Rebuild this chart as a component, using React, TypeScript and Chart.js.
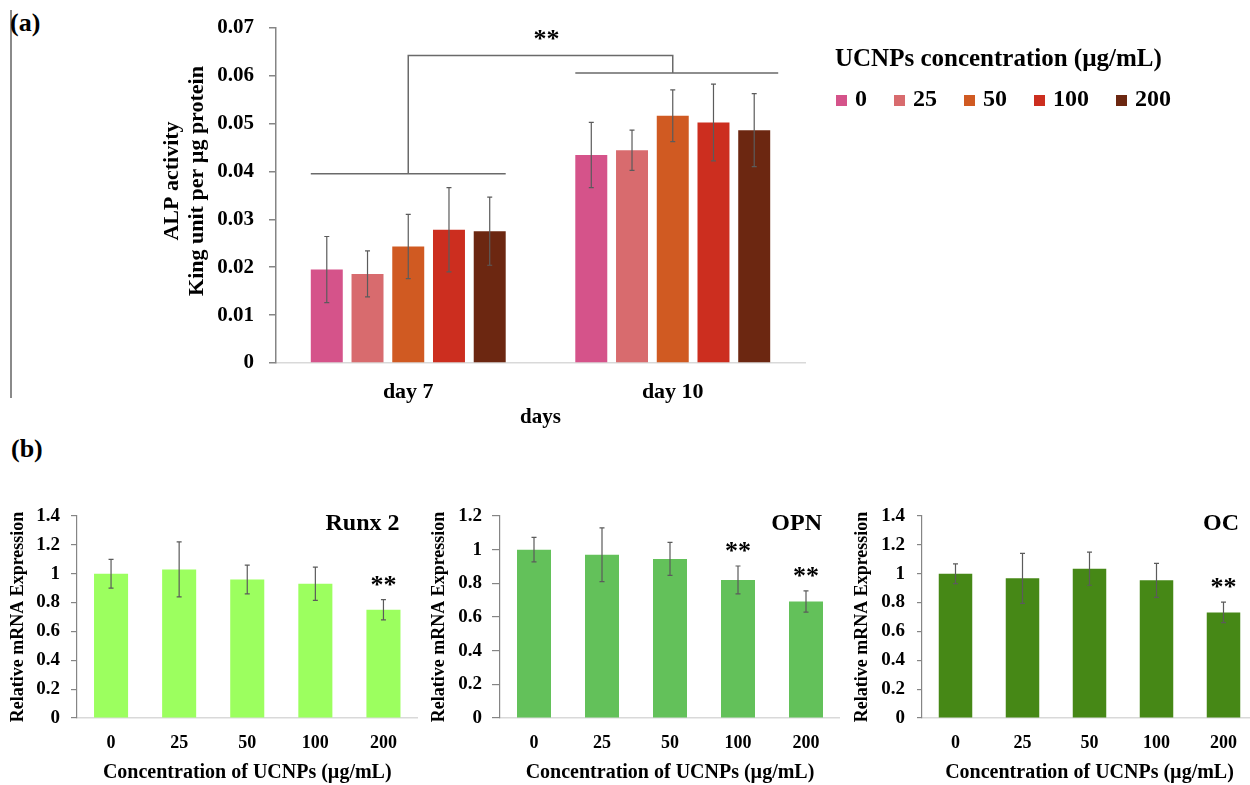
import React, { useEffect, useRef } from "react";
import { Chart, registerables } from "chart.js";

Chart.register(...registerables);

const SERIF = "'Liberation Serif', 'Times New Roman', serif";

// ---------- Panel (a): ALP activity ----------
const dayLabels = ["day 7", "day 10"];
const concNames = ["0", "25", "50", "100", "200"];
const concColors = ["#D5538A", "#D86B6E", "#D05A22", "#CC2E1F", "#6C2711"];
const alpConc0 = [0.0195, 0.0434];
const alpConc25 = [0.0186, 0.0444];
const alpConc50 = [0.0243, 0.0516];
const alpConc100 = [0.0278, 0.0502];
const alpConc200 = [0.0275, 0.0486];
const alpErr0 = [0.0069, 0.0068];
const alpErr25 = [0.0048, 0.0042];
const alpErr50 = [0.0067, 0.0054];
const alpErr100 = [0.0088, 0.008];
const alpErr200 = [0.0071, 0.0076];
const alpYMax = 0.07;
const alpYStep = 0.01;
const bracketDay7 = 0.0395;
const bracketDay10 = 0.0605;
const bracketTop = 0.0642;
const alpSig = "**";
const alpYTitle = ["ALP activity", "King unit per µg protein"];
const alpXTitle = "days";
const legendTitle = "UCNPs concentration (µg/mL)";

// ---------- Panel (b): gene expression ----------
const geneConc = ["0", "25", "50", "100", "200"];
const runx2Vals = [1.0, 1.03, 0.96, 0.93, 0.75];
const runx2Err = [0.1, 0.19, 0.1, 0.115, 0.07];
const runx2Sig = ["", "", "", "", "**"];
const opnVals = [1.0, 0.97, 0.945, 0.82, 0.692];
const opnErr = [0.073, 0.16, 0.098, 0.083, 0.063];
const opnSig = ["", "", "", "**", "**"];
const ocVals = [1.0, 0.968, 1.035, 0.954, 0.732];
const ocErr = [0.068, 0.173, 0.115, 0.118, 0.071];
const ocSig = ["", "", "", "", "**"];
const geneYTitle = "Relative mRNA Expression";
const geneXTitle = "Concentration of UCNPs (µg/mL)";

const AXIS_GREY = "#858585";
const BASE_GREY = "#d9d9d9";
const ERR_GREY = "#5b5b5b";

const errorBarPlugin = {
  id: "errorBars",
  afterDatasetsDraw(chart: any) {
    const ctx = chart.ctx;
    const ys = chart.scales.y;
    chart.data.datasets.forEach((ds: any, di: number) => {
      const errs = ds.errors;
      if (!errs) return;
      const meta = chart.getDatasetMeta(di);
      meta.data.forEach((el: any, i: number) => {
        const v = ds.data[i];
        const e = errs[i];
        const yt = ys.getPixelForValue(v + e);
        const yb = ys.getPixelForValue(v - e);
        ctx.save();
        ctx.strokeStyle = ERR_GREY;
        ctx.lineWidth = 1.2;
        ctx.beginPath();
        ctx.moveTo(el.x, yt);
        ctx.lineTo(el.x, yb);
        ctx.moveTo(el.x - 2.5, yt);
        ctx.lineTo(el.x + 2.5, yt);
        ctx.moveTo(el.x - 2.5, yb);
        ctx.lineTo(el.x + 2.5, yb);
        ctx.stroke();
        ctx.restore();
      });
    });
  },
};

function ChartCanvas(props: { left: number; top: number; width: number; height: number; build: () => any }) {
  const ref = useRef<HTMLCanvasElement>(null);
  useEffect(() => {
    const chart = new Chart(ref.current as HTMLCanvasElement, props.build());
    return () => chart.destroy();
  }, []);
  return (
    <canvas
      ref={ref}
      width={props.width}
      height={props.height}
      style={{ position: "absolute", left: props.left, top: props.top, width: props.width, height: props.height }}
    />
  );
}

function buildAlp() {
  const vals = [alpConc0, alpConc25, alpConc50, alpConc100, alpConc200];
  const errs = [alpErr0, alpErr25, alpErr50, alpErr100, alpErr200];
  const datasets = concNames.map((n, i) => ({
    label: n,
    data: vals[i],
    errors: errs[i],
    backgroundColor: concColors[i],
    borderWidth: 0,
    categoryPercentage: 0.77,
    barPercentage: 0.785,
  }));
  const annot = {
    id: "alpAnnot",
    afterDraw(chart: any) {
      const ctx = chart.ctx;
      const xs = chart.scales.x;
      const ys = chart.scales.y;
      const m0 = chart.getDatasetMeta(0);
      const m4 = chart.getDatasetMeta(4);
      const g7L = m0.data[0].x - m0.data[0].width / 2;
      const g7R = m4.data[0].x + m4.data[0].width / 2;
      const g10L = m0.data[1].x - m0.data[1].width / 2;
      const g10R = m4.data[1].x + m4.data[1].width / 2;
      const c7 = xs.getPixelForValue(0);
      const c10 = xs.getPixelForValue(1);
      const yLow = ys.getPixelForValue(bracketDay7);
      const yMid = ys.getPixelForValue(bracketDay10);
      const yTop = ys.getPixelForValue(bracketTop);
      ctx.save();
      ctx.strokeStyle = "#6a6a6a";
      ctx.lineWidth = 1.5;
      ctx.beginPath();
      ctx.moveTo(g7L, yLow);
      ctx.lineTo(g7R, yLow);
      ctx.moveTo(c7, yLow);
      ctx.lineTo(c7, yTop);
      ctx.lineTo(c10, yTop);
      ctx.lineTo(c10, yMid);
      ctx.moveTo(g10L, yMid);
      ctx.lineTo(g10R + 8, yMid);
      ctx.stroke();

      ctx.fillStyle = "#000";
      ctx.font = `bold 26px ${SERIF}`;
      ctx.textAlign = "center";
      ctx.textBaseline = "alphabetic";
      ctx.fillText(alpSig, (c7 + c10) / 2 + 6, yTop - 8.5);

      // y-axis title (two lines)
      ctx.font = `bold 22px ${SERIF}`;
      ctx.textBaseline = "middle";
      const cx = chart.chartArea.left;
      alpYTitle.forEach((t, i) => {
        ctx.save();
        ctx.translate(cx - 104 + i * 25, 181);
        ctx.rotate(-Math.PI / 2);
        ctx.fillText(t, 0, 0);
        ctx.restore();
      });

      // legend
      ctx.textAlign = "left";
      ctx.textBaseline = "middle";
      ctx.font = `bold 25px ${SERIF}`;
      ctx.fillText(legendTitle, 835, 60);
      ctx.font = `bold 24px ${SERIF}`;
      let x = 836;
      chart.data.datasets.forEach((ds: any) => {
        ctx.fillStyle = ds.backgroundColor;
        ctx.fillRect(x, 95, 11, 11);
        ctx.fillStyle = "#000";
        ctx.fillText(ds.label, x + 19, 100);
        x = x + 19 + ctx.measureText(ds.label).width + 27;
      });
      ctx.restore();
    },
  };
  return {
    type: "bar",
    data: { labels: dayLabels, datasets },
    plugins: [errorBarPlugin, annot],
    options: {
      animation: false,
      responsive: false,
      maintainAspectRatio: false,
      layout: { padding: { left: 0, top: 25, right: 445, bottom: 0 } },
      plugins: { legend: { display: false }, tooltip: { enabled: false } },
      scales: {
        x: {
          grid: { display: false, drawTicks: false },
          border: { display: true, color: BASE_GREY, width: 1.5 },
          ticks: { color: "#000", font: { family: SERIF, size: 22, weight: "bold" }, padding: 16 },
          title: {
            display: true,
            text: alpXTitle,
            color: "#000",
            font: { family: SERIF, size: 21, weight: "bold" },
            padding: { top: 0, bottom: 0 },
          },
          afterFit: (s: any) => {
            s.height = 67;
          },
        },
        y: {
          min: 0,
          max: alpYMax,
          grid: { display: true, drawOnChartArea: false, drawTicks: true, tickLength: 7, color: AXIS_GREY, lineWidth: 1.5 },
          border: { display: true, color: AXIS_GREY, width: 1.5 },
          ticks: { stepSize: alpYStep, color: "#000", font: { family: SERIF, size: 21, weight: "bold" }, padding: 15 },
          afterFit: (s: any) => {
            s.width = 276;
          },
        },
      },
    },
  };
}

function buildGene(
  title: string,
  vals: number[],
  errs: number[],
  sig: string[],
  color: string,
  yMax: number,
  yAxisW: number,
  tickLen: number,
  tickPad: number,
  yTitlePad: number,
  padRight: number
) {
  const annot = {
    id: "geneAnnot",
    afterDraw(chart: any) {
      const ctx = chart.ctx;
      const ys = chart.scales.y;
      const meta = chart.getDatasetMeta(0);
      const area = chart.chartArea;
      ctx.save();
      ctx.fillStyle = "#000";
      ctx.font = `bold 26px ${SERIF}`;
      ctx.textAlign = "center";
      ctx.textBaseline = "alphabetic";
      sig.forEach((s, i) => {
        if (!s) return;
        const el = meta.data[i];
        const y = ys.getPixelForValue(vals[i] + errs[i]) - 7;
        ctx.fillText(s, el.x, y);
      });
      ctx.font = `bold 24px ${SERIF}`;
      ctx.textAlign = "right";
      ctx.textBaseline = "middle";
      ctx.fillText(title, area.right - 18, area.top + 8);
      ctx.restore();
    },
  };
  return {
    type: "bar",
    data: {
      labels: geneConc,
      datasets: [
        {
          label: title,
          data: vals,
          errors: errs,
          backgroundColor: color,
          borderWidth: 0,
          categoryPercentage: 0.5,
          barPercentage: 1.0,
        },
      ],
    },
    plugins: [errorBarPlugin, annot],
    options: {
      animation: false,
      responsive: false,
      maintainAspectRatio: false,
      layout: { padding: { left: 0, top: 36, right: padRight, bottom: 0 } },
      plugins: { legend: { display: false }, tooltip: { enabled: false } },
      scales: {
        x: {
          grid: { display: false, drawTicks: false },
          border: { display: true, color: BASE_GREY, width: 1.5 },
          ticks: { color: "#000", font: { family: SERIF, size: 18, weight: "bold" }, padding: 15 },
          title: {
            display: true,
            text: geneXTitle,
            color: "#000",
            font: { family: SERIF, size: 20, weight: "bold" },
            padding: { top: 0, bottom: 0 },
          },
          afterFit: (s: any) => {
            s.height = 67;
          },
        },
        y: {
          min: 0,
          max: yMax,
          grid: { display: true, drawOnChartArea: false, drawTicks: true, tickLength: tickLen, color: AXIS_GREY, lineWidth: 1.2 },
          border: { display: true, color: AXIS_GREY, width: 1.2 },
          ticks: {
            stepSize: 0.2,
            color: "#000",
            font: { family: SERIF, size: 19, weight: "bold" },
            padding: tickPad,
            callback: (v: any) => String(parseFloat(Number(v).toFixed(1))),
          },
          title: {
            display: true,
            text: geneYTitle,
            color: "#000",
            font: { family: SERIF, size: 18, weight: "bold" },
            padding: { top: yTitlePad, bottom: 0 },
          },
          afterFit: (s: any) => {
            s.width = yAxisW;
          },
        },
      },
    },
  };
}

export default function App() {
  const labelStyle: React.CSSProperties = {
    position: "absolute",
    fontFamily: SERIF,
    fontWeight: "bold",
    fontSize: 26,
    lineHeight: "26px",
    color: "#000",
    whiteSpace: "nowrap",
  };
  return (
    <div
      style={{
        position: "absolute",
        left: 0,
        top: 0,
        width: 1250,
        height: 785,
        overflow: "hidden",
        background: "#fff",
      }}
    >
      <div style={{ position: "absolute", left: 10, top: 10, width: 2, height: 388, background: "#8a8a8a" }} />
      <div style={{ ...labelStyle, left: 10, top: 10 }}>(a)</div>
      <div style={{ ...labelStyle, left: 11, top: 436 }}>(b)</div>
      <ChartCanvas left={0} top={0} width={1250} height={430} build={buildAlp} />
      <ChartCanvas
        left={0}
        top={480}
        width={420}
        height={305}
        build={() => buildGene("Runx 2", runx2Vals, runx2Err, runx2Sig, "#9CFF5F", 1.4, 77, 6, 11, 8, 2.5)}
      />
      <ChartCanvas
        left={420}
        top={480}
        width={420}
        height={305}
        build={() => buildGene("OPN", opnVals, opnErr, opnSig, "#63C15A", 1.2, 80, 8, 10, 9, 0)}
      />
      <ChartCanvas
        left={830}
        top={480}
        width={430}
        height={305}
        build={() => buildGene("OC", ocVals, ocErr, ocSig, "#468816", 1.4, 92, 5, 12, 22, 3)}
      />
    </div>
  );
}
